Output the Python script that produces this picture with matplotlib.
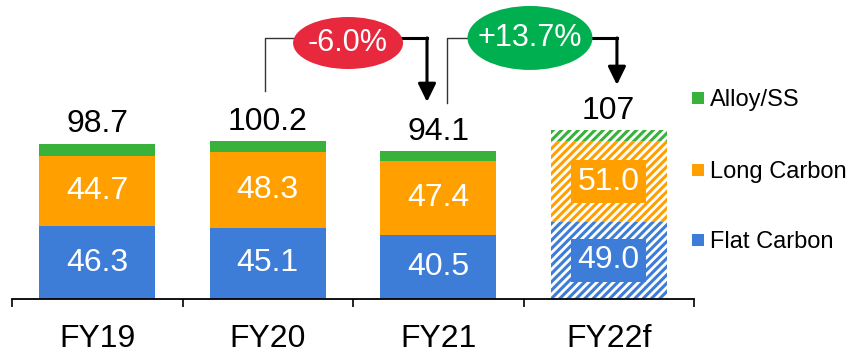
import matplotlib
matplotlib.use("Agg")
import matplotlib.pyplot as plt
from matplotlib.patches import Ellipse, Rectangle

plt.rcParams["font.family"] = ["Liberation Sans", "DejaVu Sans"]
plt.rcParams["hatch.linewidth"] = 2.2

# ---- data -------------------------------------------------------------
years = ["FY19", "FY20", "FY21", "FY22f"]
flat_carbon = [46.3, 45.1, 40.5, 49.0]
long_carbon = [44.7, 48.3, 47.4, 51.0]
totals = [98.7, 100.2, 94.1, 107.0]
total_labels = ["98.7", "100.2", "94.1", "107"]
alloy_ss = [t - f - l for t, f, l in zip(totals, flat_carbon, long_carbon)]
forecast = [False, False, False, True]
changes = ["-6.0%", "+13.7%"]

series_names = ["Flat Carbon", "Long Carbon", "Alloy/SS"]
series_colors = ["#3D7DD8", "#FFA000", "#38B23A"]

# ---- figure -----------------------------------------------------------
W, H = 851, 354
fig = plt.figure(figsize=(W / 100, H / 100), dpi=100)
ax = fig.add_axes([12 / W, 55 / H, 682 / W, 299 / H])
ax.set_xlim(-0.5, 3.5)
ax.set_ylim(0, 189.8)

x = list(range(len(years)))
bar_w = 0.68
stack = [flat_carbon, long_carbon, alloy_ss]

bottoms = [0.0] * len(years)
for vals, name, col in zip(stack, series_names, series_colors):
    for i, v in enumerate(vals):
        if forecast[i]:
            ax.bar(x[i], v, bar_w, bottom=bottoms[i], facecolor="white",
                   edgecolor=col, hatch="////", linewidth=0, zorder=2)
        else:
            ax.bar(x[i], v, bar_w, bottom=bottoms[i], color=col,
                   linewidth=0, zorder=2)
    for i, v in enumerate(vals):
        if name != "Alloy/SS":
            yc = bottoms[i] + v / 2
            kw = {}
            if forecast[i]:
                kw["bbox"] = dict(boxstyle="square,pad=0.2", facecolor=col,
                                  edgecolor="none")
            ax.text(x[i], yc, f"{v:.1f}", ha="center", va="center",
                    color="white", fontsize=23, zorder=4, **kw)
    bottoms = [b + v for b, v in zip(bottoms, vals)]

# totals above the stacks
for i, t in enumerate(totals):
    ax.annotate(total_labels[i], xy=(x[i], t), xytext=(0, 8),
                textcoords="offset points", ha="center", va="baseline",
                fontsize=23, color="black")

# ---- axis styling -----------------------------------------------------
for s in ["top", "right", "left"]:
    ax.spines[s].set_visible(False)
ax.spines["bottom"].set_linewidth(1.3)
ax.set_yticks([])
ax.set_xticks(x)
ax.set_xticklabels(years, fontsize=23)
ax.tick_params(axis="x", which="major", length=0, pad=18)
ax.set_xticks([-0.5, 0.5, 1.5, 2.5, 3.5], minor=True)
ax.tick_params(axis="x", which="minor", length=6, width=1.2, direction="out")

# ---- change callouts --------------------------------------------------
line_y = 165.7
callouts = [
    dict(xl=0.984, yl=132.1, xr=1.934, tip=125.1, cx=1.471, cy=162.5,
         w=0.645, h=33.0, color="#E8293D", text=changes[0]),
    dict(xl=2.051, yl=124.4, xr=3.048, tip=135.9, cx=2.538, cy=165.7,
         w=0.733, h=40.6, color="#00B050", text=changes[1]),
]
for c in callouts:
    ax.plot([c["xl"], c["xl"], c["cx"]], [c["yl"], line_y, line_y],
            color="#333333", lw=1.0, zorder=3, clip_on=False)
    ax.plot([c["cx"], c["xr"]], [line_y, line_y], color="black", lw=2.2,
            solid_capstyle="projecting", zorder=3, clip_on=False)
    ax.annotate("", xy=(c["xr"], c["tip"]), xytext=(c["xr"], line_y),
                arrowprops=dict(arrowstyle="-|>,head_length=0.55,head_width=0.27",
                                mutation_scale=20, lw=2.2, color="black",
                                shrinkA=0, shrinkB=0), zorder=3)
    ax.add_patch(Ellipse((c["cx"], c["cy"]), c["w"], c["h"],
                         facecolor=c["color"], edgecolor="none", zorder=5,
                         clip_on=False))
    ax.text(c["cx"], c["cy"], c["text"], ha="center", va="center",
            color="white", fontsize=22, zorder=6)

# ---- legend -----------------------------------------------------------
legend_rows = [("Alloy/SS", 2, 97.5), ("Long Carbon", 1, 169.5),
               ("Flat Carbon", 0, 240.0)]
sq = 12
for label, idx, yc in legend_rows:
    fig.add_artist(Rectangle((692 / W, 1 - (yc + sq / 2) / H), sq / W, sq / H,
                             transform=fig.transFigure,
                             facecolor=series_colors[idx], edgecolor="none"))
    fig.text(710 / W, 1 - (yc + sq / 2 + 2.5) / H, label, fontsize=17,
             ha="left", va="baseline", color="black")

fig.savefig("out.png", dpi=100)
